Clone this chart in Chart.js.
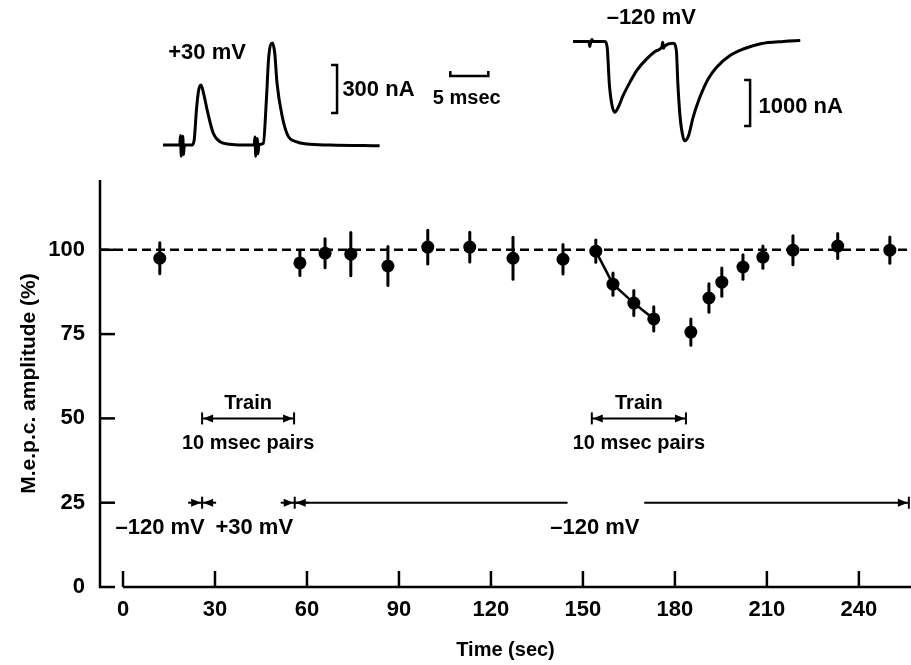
<!DOCTYPE html>
<html><head><meta charset="utf-8">
<script src="https://cdn.jsdelivr.net/npm/chart.js@4/dist/chart.umd.min.js"></script>
<style>
html,body{margin:0;padding:0;background:#fff;}
#wrap{position:relative;width:911px;height:665px;overflow:hidden;background:#fff;}
#wrap canvas{position:absolute;}
</style></head><body>
<div id="wrap">
<canvas id="main" width="911" height="665" style="left:0;top:0"></canvas>
<canvas id="insetA" width="345" height="128" style="left:163px;top:33px"></canvas>
<canvas id="insetB" width="338" height="161" style="left:573px;top:0px"></canvas>
</div>
<script>
// ---------- main plot data ----------
const timeSec      = [12.0, 57.7, 65.9, 74.3, 86.4, 99.4, 113.1, 127.2, 143.5, 154.2, 159.8, 166.6, 173.1, 185.2, 191.1, 195.3, 202.2, 208.7, 218.5, 233.1, 250.1];
const amplitudePct = [97.5, 96.1, 99.0, 98.7, 95.2, 100.8, 100.8, 97.5, 97.2, 99.6, 89.8, 84.2, 79.5, 75.6, 85.7, 90.4, 94.9, 97.8, 99.9, 101.1, 99.9];
const errorPct     = [4.6, 3.7, 4.3, 6.4, 5.8, 5.0, 4.4, 6.2, 4.4, 3.3, 3.3, 3.7, 3.6, 3.9, 4.2, 4.2, 3.6, 3.3, 4.3, 3.7, 3.9];
const connectedIdx = [9, 10, 11, 12];
const controlLevel = 100;
const xTickValues  = [0, 30, 60, 90, 120, 150, 180, 210, 240];
const yTickValues  = [0, 25, 50, 75, 100];
const trainPeriods = [[25.8, 55.8], [152.9, 183.6]];
const clampBoundaries = [25.8, 56.0];
const clampSegments   = [[56.0, 145.0], [170.0, 256.3]];

// ---------- inset traces (ms, nA) ----------
const traceA_ms = [0, 2.2, 2.3, 2.4, 2.5, 2.6, 2.7, 2.8, 3.8, 4.1, 4.4, 4.7, 5.0, 5.3, 5.9, 6.6, 7.5, 8.8, 10.0, 12.0, 12.1, 12.2, 12.3, 12.4, 12.5, 12.6, 13.2, 13.6, 13.9, 14.4, 14.7, 15.0, 15.7, 16.4, 17.6, 18.9, 22.0, 28.5];
const traceA_nA = [0, 0, 60, -70, 0, 55, -60, 0, 0, 30, 220, 345, 375, 330, 200, 75, 20, 5, 0, 0, 50, -70, 0, 40, -55, 0, 10, 280, 545, 637, 575, 387, 175, 62, 19, 6, 0, -5];
const traceB_ms = [0, 2.1, 2.2, 2.35, 2.5, 2.6, 4.2, 4.5, 4.78, 5.1, 5.5, 5.96, 6.6, 7.5, 8.4, 9.7, 11.0, 11.7, 11.8, 11.9, 12.1, 13.2, 13.6, 13.8, 14.1, 14.5, 14.7, 15.2, 15.8, 16.7, 17.8, 18.9, 20.7, 22.4, 24.7, 27.7, 29.9];
const traceB_nA = [0, 0, -110, 0, 40, 0, 0, -130, -925, -1360, -1540, -1430, -1175, -885, -630, -380, -200, -120, -20, -150, -95, -40, -200, -930, -1660, -2095, -2160, -2050, -1650, -1210, -810, -560, -300, -165, -50, 0, 20];

const X_MIN = -7.5, X_MAX = 257, Y_MIN = 0, Y_MAX = 120.7;
const FONT = '"Liberation Sans", Arial, Helvetica, sans-serif';
const INK = '#000';

function arrowHead(ctx, tipX, y, dir) {
  ctx.beginPath();
  ctx.moveTo(tipX, y);
  ctx.lineTo(tipX - dir * 10, y - 4);
  ctx.lineTo(tipX - dir * 10, y + 4);
  ctx.closePath();
  ctx.fill();
}
function hLine(ctx, x1, x2, y) { ctx.beginPath(); ctx.moveTo(x1, y); ctx.lineTo(x2, y); ctx.stroke(); }
function vLine(ctx, x, y1, y2) { ctx.beginPath(); ctx.moveTo(x, y1); ctx.lineTo(x, y2); ctx.stroke(); }

const mainArt = {
  id: 'mainArt',
  beforeDatasetsDraw(chart) {
    const {ctx, scales: {x, y}} = chart;
    ctx.save();
    ctx.strokeStyle = INK; ctx.lineWidth = 3; ctx.lineCap = 'round';
    timeSec.forEach((t, i) => {
      const px = x.getPixelForValue(t);
      vLine(ctx, px, y.getPixelForValue(amplitudePct[i] - errorPct[i]), y.getPixelForValue(amplitudePct[i] + errorPct[i]));
    });
    ctx.restore();
  },
  afterDraw(chart) {
    const {ctx, chartArea: ca, scales: {x, y}} = chart;
    ctx.save();
    ctx.strokeStyle = INK; ctx.fillStyle = INK; ctx.lineCap = 'butt';
    ctx.lineWidth = 2.5;
    const y0 = y.getPixelForValue(0);
    ctx.beginPath(); ctx.moveTo(ca.left, ca.top); ctx.lineTo(ca.left, y0); ctx.lineTo(ca.left + 15, y0); ctx.stroke();
    hLine(ctx, x.getPixelForValue(0), ca.right, y0);
    yTickValues.forEach(v => { if (v > 0) hLine(ctx, ca.left, ca.left + 15, y.getPixelForValue(v)); });
    xTickValues.forEach(v => vLine(ctx, x.getPixelForValue(v), y0, y0 - 16));

    ctx.lineWidth = 2;
    const yt = y.getPixelForValue(50);
    ctx.font = 'bold 20px ' + FONT; ctx.textAlign = 'center'; ctx.textBaseline = 'middle';
    trainPeriods.forEach(([a, b]) => {
      const xa = x.getPixelForValue(a), xb = x.getPixelForValue(b);
      hLine(ctx, xa, xb, yt);
      vLine(ctx, xa, yt - 6, yt + 6); vLine(ctx, xb, yt - 6, yt + 6);
      arrowHead(ctx, xa + 1, yt, -1); arrowHead(ctx, xb - 1, yt, 1);
      const xc = (xa + xb) / 2;
      ctx.fillText('Train', xc, y.getPixelForValue(54.3));
      ctx.fillText('10 msec pairs', xc, y.getPixelForValue(42.7));
    });

    const yc = y.getPixelForValue(25);
    clampBoundaries.forEach(b => {
      const xb = x.getPixelForValue(b);
      vLine(ctx, xb, yc - 6, yc + 6);
      hLine(ctx, xb - 14, xb + 14, yc);
      arrowHead(ctx, xb - 1, yc, 1); arrowHead(ctx, xb + 1, yc, -1);
    });
    clampSegments.forEach(([a, b]) => hLine(ctx, x.getPixelForValue(a), x.getPixelForValue(b), yc));
    const last = clampSegments[clampSegments.length - 1][1];
    const xe = x.getPixelForValue(last);
    vLine(ctx, xe, yc - 6, yc + 6); arrowHead(ctx, xe - 1, yc, 1);

    ctx.font = 'bold 22px ' + FONT;
    const yl = y.getPixelForValue(17.5);
    ctx.fillText('\u2013120 mV', x.getPixelForValue(12.1), yl);
    ctx.fillText('+30 mV', x.getPixelForValue(42.8), yl);
    ctx.fillText('\u2013120 mV', x.getPixelForValue(153.9), yl);
    ctx.restore();
  }
};

new Chart(document.getElementById('main'), {
  type: 'scatter',
  data: {
    datasets: [
      { data: [{x: X_MIN, y: controlLevel}, {x: X_MAX, y: controlLevel}], showLine: true, borderColor: INK, borderWidth: 2.5, borderDash: [9, 5], pointRadius: 0, clip: false },
      { data: connectedIdx.map(i => ({x: timeSec[i], y: amplitudePct[i]})), showLine: true, borderColor: INK, borderWidth: 2.5, pointRadius: 0 },
      { data: timeSec.map((t, i) => ({x: t, y: amplitudePct[i]})), pointRadius: 6.5, pointBackgroundColor: INK, pointBorderColor: INK, pointBorderWidth: 0 }
    ]
  },
  options: {
    responsive: false, animation: false, devicePixelRatio: 1,
    layout: { autoPadding: false, padding: { top: 180, left: 0, right: 0, bottom: 0 } },
    plugins: { legend: { display: false }, tooltip: { enabled: false } },
    scales: {
      x: {
        type: 'linear', min: X_MIN, max: X_MAX,
        afterFit: s => { s.height = 78; s.paddingLeft = 0; s.paddingRight = 0; },
        afterBuildTicks: s => { s.ticks = xTickValues.map(v => ({value: v})); },
        grid: { display: false, drawTicks: false }, border: { display: false },
        ticks: { padding: 10, color: INK, autoSkip: false, maxRotation: 0, font: { family: FONT, size: 22, weight: 'bold' } },
        title: { display: true, text: 'Time (sec)', color: INK, font: { family: FONT, size: 20, weight: 'bold' }, padding: { top: 0, bottom: 3 } }
      },
      y: {
        type: 'linear', min: Y_MIN, max: Y_MAX,
        afterFit: s => { s.width = 100; s.paddingTop = 0; s.paddingBottom = 0; },
        afterBuildTicks: s => { s.ticks = yTickValues.map(v => ({value: v})); },
        grid: { display: false, drawTicks: false }, border: { display: false },
        ticks: { padding: 15, color: INK, font: { family: FONT, size: 22, weight: 'bold' } },
        title: { display: true, text: 'M.e.p.c. amplitude (%)', color: INK, font: { family: FONT, size: 21, weight: 'bold' }, padding: { top: 17, bottom: 0 } }
      }
    }
  },
  plugins: [mainArt]
});

const insetArt = {
  id: 'insetArt',
  afterDraw(chart, args, opts) {
    const {ctx, scales: {x, y}} = chart;
    ctx.save();
    ctx.strokeStyle = INK; ctx.fillStyle = INK; ctx.lineWidth = 2.5; ctx.lineCap = 'butt';
    (opts.vBars || []).forEach(b => {
      const px = x.getPixelForValue(b.x), y1 = y.getPixelForValue(b.from), y2 = y.getPixelForValue(b.to);
      ctx.beginPath(); ctx.moveTo(px - 6, y1); ctx.lineTo(px, y1); ctx.lineTo(px, y2); ctx.lineTo(px - 6, y2); ctx.stroke();
    });
    (opts.hBars || []).forEach(b => {
      const py = y.getPixelForValue(b.y), x1 = x.getPixelForValue(b.from), x2 = x.getPixelForValue(b.to);
      ctx.beginPath(); ctx.moveTo(x1, py - 5); ctx.lineTo(x1, py); ctx.lineTo(x2, py); ctx.lineTo(x2, py - 5); ctx.stroke();
    });
    ctx.textBaseline = 'middle';
    (opts.texts || []).forEach(t => {
      ctx.font = 'bold ' + (t.size || 22) + 'px ' + FONT;
      ctx.textAlign = t.align || 'center';
      ctx.fillText(t.text, x.getPixelForValue(t.x), y.getPixelForValue(t.y));
    });
    ctx.restore();
  }
};

function insetChart(id, ms, nA, xMax, yMin, yMax, art) {
  return new Chart(document.getElementById(id), {
    type: 'scatter',
    data: { datasets: [{ data: ms.map((t, i) => ({x: t, y: nA[i]})), showLine: true, borderColor: INK, borderWidth: 3, pointRadius: 0, clip: false, cubicInterpolationMode: 'monotone' }] },
    options: {
      responsive: false, animation: false, devicePixelRatio: 1,
      layout: { autoPadding: false, padding: 0 },
      plugins: { legend: { display: false }, tooltip: { enabled: false }, insetArt: art },
      scales: {
        x: { type: 'linear', display: false, min: 0, max: xMax },
        y: { type: 'linear', display: false, min: yMin, max: yMax }
      }
    },
    plugins: [insetArt]
  });
}

insetChart('insetA', traceA_ms, traceA_nA, 45.39, -100, 700, {
  vBars: [{x: 22.9, from: 500, to: 200}],
  hBars: [{y: 431, from: 37.8, to: 42.8}],
  texts: [
    {text: '+30 mV', x: 5.8, y: 575},
    {text: '300 nA', x: 23.6, y: 344, align: 'left'},
    {text: '5 msec', x: 35.5, y: 290, align: 'left', size: 20}
  ]
});
insetChart('insetB', traceB_ms, traceB_nA, 44.47, -2600, 900, {
  vBars: [{x: 23.3, from: -840, to: -1840}],
  texts: [
    {text: '\u2013120 mV', x: 10.3, y: 509},
    {text: '1000 nA', x: 24.4, y: -1426, align: 'left'}
  ]
});
</script>
</body></html>
